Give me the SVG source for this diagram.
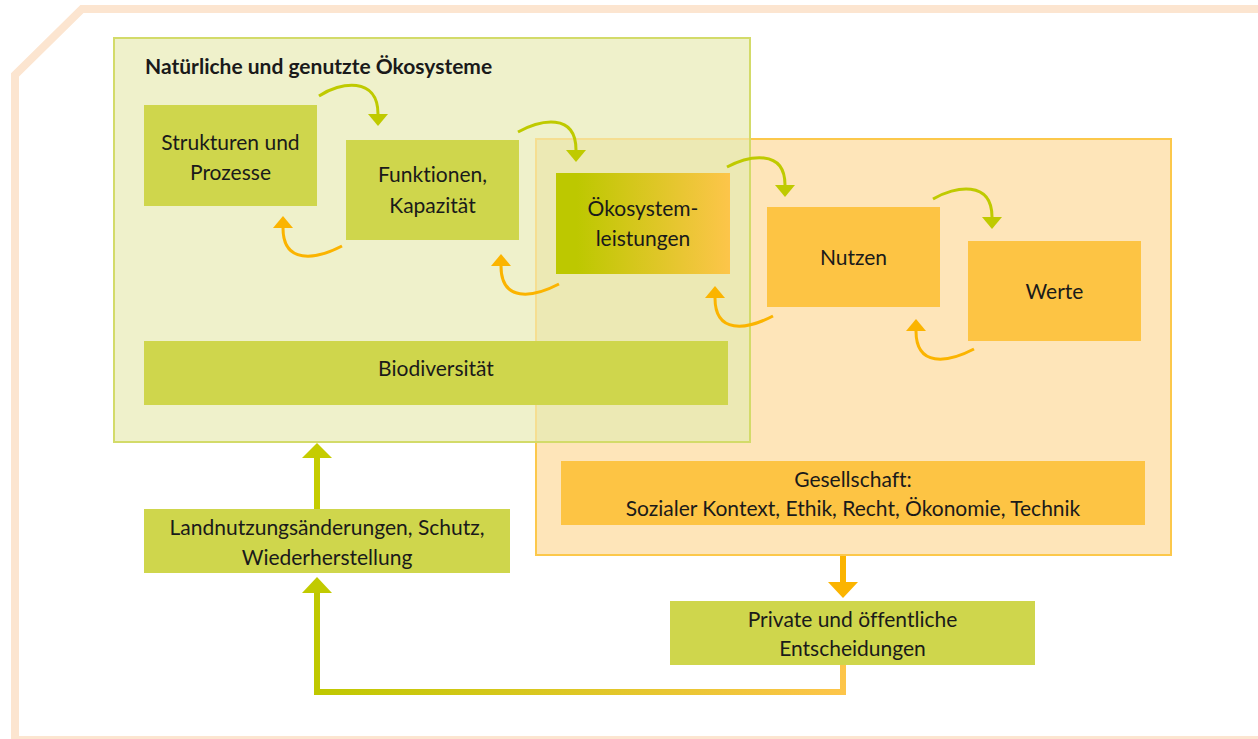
<svg xmlns="http://www.w3.org/2000/svg" width="1258" height="739" viewBox="0 0 1258 739">
<style>
text{font-variant-ligatures:none}
.t{font-family:Lato,"Open Sans","Liberation Sans",sans-serif;font-size:21px;fill:#1a1a1a;text-anchor:middle}
.g{fill:#cfd64c}
.o{fill:#fdc444}
.ag{fill:none;stroke:#bfca00;stroke-width:3}
.ao{fill:none;stroke:#fbb400;stroke-width:3}
</style>
<defs>
<marker id="mg" viewBox="0 0 12 20" refX="0" refY="10" markerWidth="12" markerHeight="20" markerUnits="userSpaceOnUse" orient="auto"><path d="M0,0 L12,10 L0,20 z" fill="#bfca00"/></marker>
<marker id="mo" viewBox="0 0 12 20" refX="0" refY="10" markerWidth="12" markerHeight="20" markerUnits="userSpaceOnUse" orient="auto"><path d="M0,0 L12,10 L0,20 z" fill="#fbb400"/></marker>
<linearGradient id="eg" x1="0" y1="0" x2="1" y2="0"><stop offset="0.12" stop-color="#bdc800"/><stop offset="1" stop-color="#fdc54a"/></linearGradient>
<linearGradient id="bg" gradientUnits="userSpaceOnUse" x1="317" y1="0" x2="843" y2="0"><stop offset="0" stop-color="#bfc800"/><stop offset="1" stop-color="#fdc54a"/></linearGradient>
</defs>
<path d="M1258,9 L82,9 L15,75 L15,740 L1258,740" fill="none" stroke="#fce5d0" stroke-width="8"/>
<g id="gesellschaft-bereich">
<rect x="536" y="139" width="635" height="416" fill="#fee5b9" stroke="#fcc84b" stroke-width="2"/>
</g>
<g id="oekosysteme-bereich">
<rect x="114" y="38" width="636" height="404" fill="#eff1cb"/>
<rect x="537" y="140" width="212" height="301" fill="#ece9b4"/>
<path d="M536,442 L536,139 L750,139" fill="none" stroke="#fcc84b" stroke-width="2" opacity="0.45"/>
<rect x="114" y="38" width="636" height="404" fill="none" stroke="#d3db69" stroke-width="2"/>
<text x="145" y="74" style="font-family:Lato,'Open Sans','Liberation Sans',sans-serif;font-size:21px;font-weight:bold;fill:#1a1a1a">Natürliche und genutzte Ökosysteme</text>
</g>
<g id="strukturen"><rect class="g" x="144" y="105" width="173" height="101"/><text class="t" x="230.5" y="150">Strukturen und</text><text class="t" x="230.5" y="180">Prozesse</text></g>
<g id="funktionen"><rect class="g" x="346" y="140" width="173" height="100"/><text class="t" x="432.5" y="182">Funktionen,</text><text class="t" x="432.5" y="213">Kapazität</text></g>
<g id="oekosystemleistungen"><rect x="556" y="173" width="174" height="101" fill="url(#eg)"/><text class="t" x="643" y="216">Ökosystem-</text><text class="t" x="643" y="246">leistungen</text></g>
<g id="nutzen"><rect class="o" x="767" y="207" width="173" height="100"/><text class="t" x="853.5" y="265">Nutzen</text></g>
<g id="werte"><rect class="o" x="968" y="241" width="173" height="100"/><text class="t" x="1054.5" y="299">Werte</text></g>
<g id="biodiversitaet"><rect class="g" x="144" y="341" width="584" height="64"/><text class="t" x="436" y="376">Biodiversität</text></g>
<g id="gesellschaft"><rect class="o" x="561" y="461" width="584" height="64"/><text class="t" x="853" y="487">Gesellschaft:</text><text class="t" x="853" y="516">Sozialer Kontext, Ethik, Recht, Ökonomie, Technik</text></g>
<g id="landnutzung"><rect class="g" x="144" y="509" width="366" height="64"/><text class="t" x="327" y="535">Landnutzungsänderungen, Schutz,</text><text class="t" x="327" y="565">Wiederherstellung</text></g>
<g id="entscheidungen"><rect class="g" x="670" y="601" width="365" height="64"/><text class="t" x="852.5" y="627">Private und öffentliche</text><text class="t" x="852.5" y="656">Entscheidungen</text></g>
<g id="connectors">
<path class="ag" d="M319,96 C340,82 378,76 378,114" marker-end="url(#mg)"/>
<path class="ag" d="M518,132 C540,120 576,112 576,150" marker-end="url(#mg)"/>
<path class="ag" d="M727,167 C748,156 785,148 785,185" marker-end="url(#mg)"/>
<path class="ag" d="M933,199 C955,186 992,180 992,217" marker-end="url(#mg)"/>
<path class="ao" d="M342,246 C315,260 283,264 283,228" marker-end="url(#mo)"/>
<path class="ao" d="M559,284 C532,298 501,302 501,266" marker-end="url(#mo)"/>
<path class="ao" d="M773,316 C746,330 715,334 715,298" marker-end="url(#mo)"/>
<path class="ao" d="M974,349 C947,363 916,367 916,331" marker-end="url(#mo)"/>
<line x1="317" y1="509" x2="317" y2="457" stroke="#c5cc00" stroke-width="6"/>
<polygon points="302,458 332,458 317,443" fill="#c5cc00"/>
<path d="M843,665 L843,692 L317,692 L317,592" fill="none" stroke="url(#bg)" stroke-width="6"/>
<polygon points="302,593 332,593 317,577" fill="#c1ca00"/>
<line x1="843" y1="556" x2="843" y2="583" stroke="#fbb400" stroke-width="6"/>
<polygon points="828,582 858,582 843,598" fill="#fbb400"/>
</g>
</svg>
